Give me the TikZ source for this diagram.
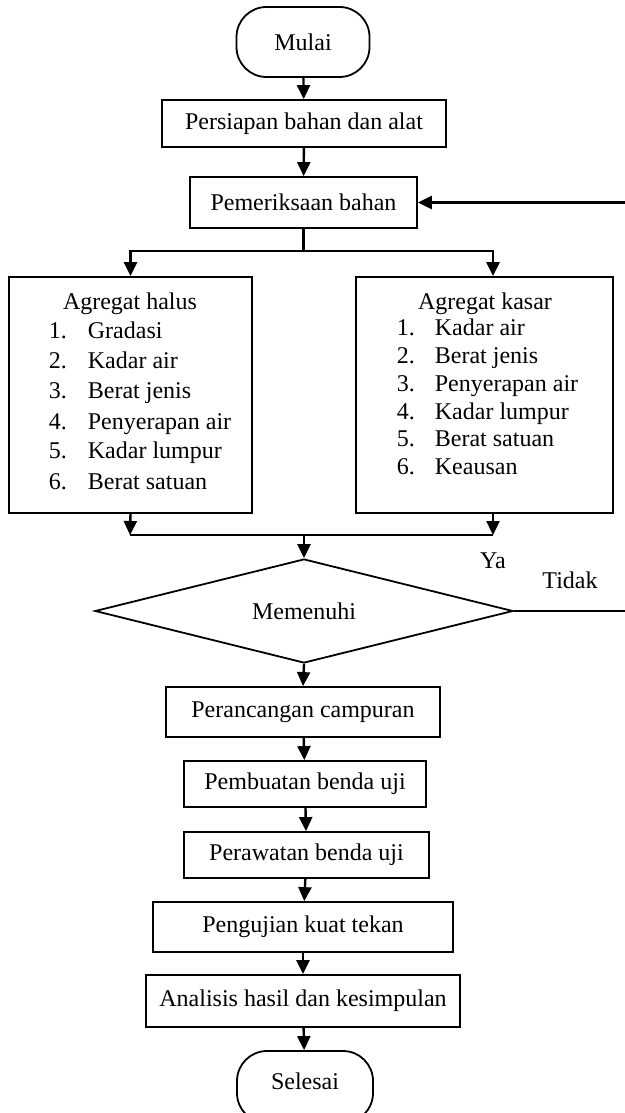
\documentclass[tikz,border=0pt]{standalone}
\usepackage{fontspec}
\setmainfont{Liberation Serif}
\usetikzlibrary{arrows.meta,shapes.geometric}
\begin{document}
\begin{tikzpicture}[x=0.5pt,y=-0.5pt,
  font=\fontsize{12pt}{14pt}\selectfont,
  line width=0.9pt,
  box/.style={draw,rectangle,inner sep=0pt,align=center},
  term/.style={draw,rectangle,rounded corners=15pt,inner sep=0pt},
  dec/.style={draw,diamond,inner sep=0pt,aspect=4},
  arr/.style={line width=1.2pt,-{Triangle[width=6.5pt,length=7pt]}},
  ln/.style={line width=1.2pt},
  lbl/.style={inner sep=0pt,anchor=mid west},
]
\clip (0,0) rectangle (625,1113);
% nodes
\node[term,minimum width=66.5pt,minimum height=35pt] (mulai) at (303,42) {Mulai};
\node[box,minimum width=142pt,minimum height=23.5pt] (persiapan) at (304,123.5) {Persiapan bahan dan alat};
\node[box,minimum width=113.5pt,minimum height=25.5pt] (pem) at (303.5,202.5) {Pemeriksaan bahan};
\node[box,minimum width=121.5pt,minimum height=118pt] (halus) at (130.5,395) {};
\node[box,minimum width=128.5pt,minimum height=118pt] (kasar) at (484.5,395) {};
\node[dec,minimum width=209pt,minimum height=52pt] (cek) at (304,611) {};
\node[inner sep=0pt] (cektxt) at (304,611) {Memenuhi};
\node[box,minimum width=137pt,minimum height=25pt] (rancang) at (303,712) {Perancangan campuran};
\node[box,minimum width=121pt,minimum height=23pt] (buat) at (305,784) {Pembuatan benda uji};
\node[box,minimum width=122.5pt,minimum height=23pt] (rawat) at (306.5,855) {Perawatan benda uji};
\node[box,minimum width=150pt,minimum height=25pt] (uji) at (303,927) {Pengujian kuat tekan};
\node[box,minimum width=157pt,minimum height=26pt] (analisis) at (303,1001) {Analisis hasil dan kesimpulan};
\node[term,minimum width=68pt,minimum height=36pt] (selesai) at (305,1087) {};
\node[inner sep=0pt] (seltxt) at (305,1081) {Selesai};
% left list
\node[inner sep=0pt,anchor=mid] (htitle) at (130,305) {Agregat halus};
\foreach \n/\t/\yy in {1/Gradasi/334,2/Kadar air/364,3/Berat jenis/394,4/Penyerapan air/425,5/Kadar lumpur/454,6/Berat satuan/485}{
  \node[lbl] (hn\n) at (48,\yy) {\n.};
  \node[lbl] (ht\n) at (87,\yy) {\t};
}
% right list
\node[inner sep=0pt,anchor=mid] (ktitle) at (485,305) {Agregat kasar};
\foreach \n/\t/\yy in {1/Kadar air/331,2/Berat jenis/359,3/Penyerapan air/387,4/Kadar lumpur/415,5/Berat satuan/442,6/Keausan/470}{
  \node[lbl] (kn\n) at (396,\yy) {\n.};
  \node[lbl] (kt\n) at (434,\yy) {\t};
}
% labels
\node[inner sep=0pt,anchor=mid] (ya) at (493,564) {Ya};
\node[inner sep=0pt,anchor=mid] (tidak) at (570,584) {Tidak};
% coordinates
\coordinate (split) at (303.5,251);
\coordinate (mL) at (130,535);
\coordinate (mR) at (493,535);
\coordinate (merge) at (304,535);
\coordinate (fbB) at (630,611);
\coordinate (fbT) at (630,202.5);
% connectors
\draw[arr] (mulai) -- (persiapan);
\draw[arr] (persiapan) -- (pem);
\draw[ln] (pem.south) -- (split);
\draw[arr] (split) -| (halus.north);
\draw[arr] (split) -| ([xshift=4.25pt]kasar.north);
\draw[arr] (halus.south) -- (mL);
\draw[arr] ([xshift=4.25pt]kasar.south) -- (mR);
\draw[ln] (mL) -- (mR);
\draw[arr] (merge) -- (cek.north);
\draw[arr] (cek.east) -- (fbB) -- (fbT) -- (pem.east);
\draw[arr] (cek.south) -- (rancang.north);
\draw[arr] (rancang) -- (buat);
\draw[arr] (buat) -- (rawat);
\draw[arr] (rawat) -- (uji);
\draw[arr] (uji) -- (analisis);
\draw[arr] (analisis) -- (selesai);
\end{tikzpicture}
\end{document}
